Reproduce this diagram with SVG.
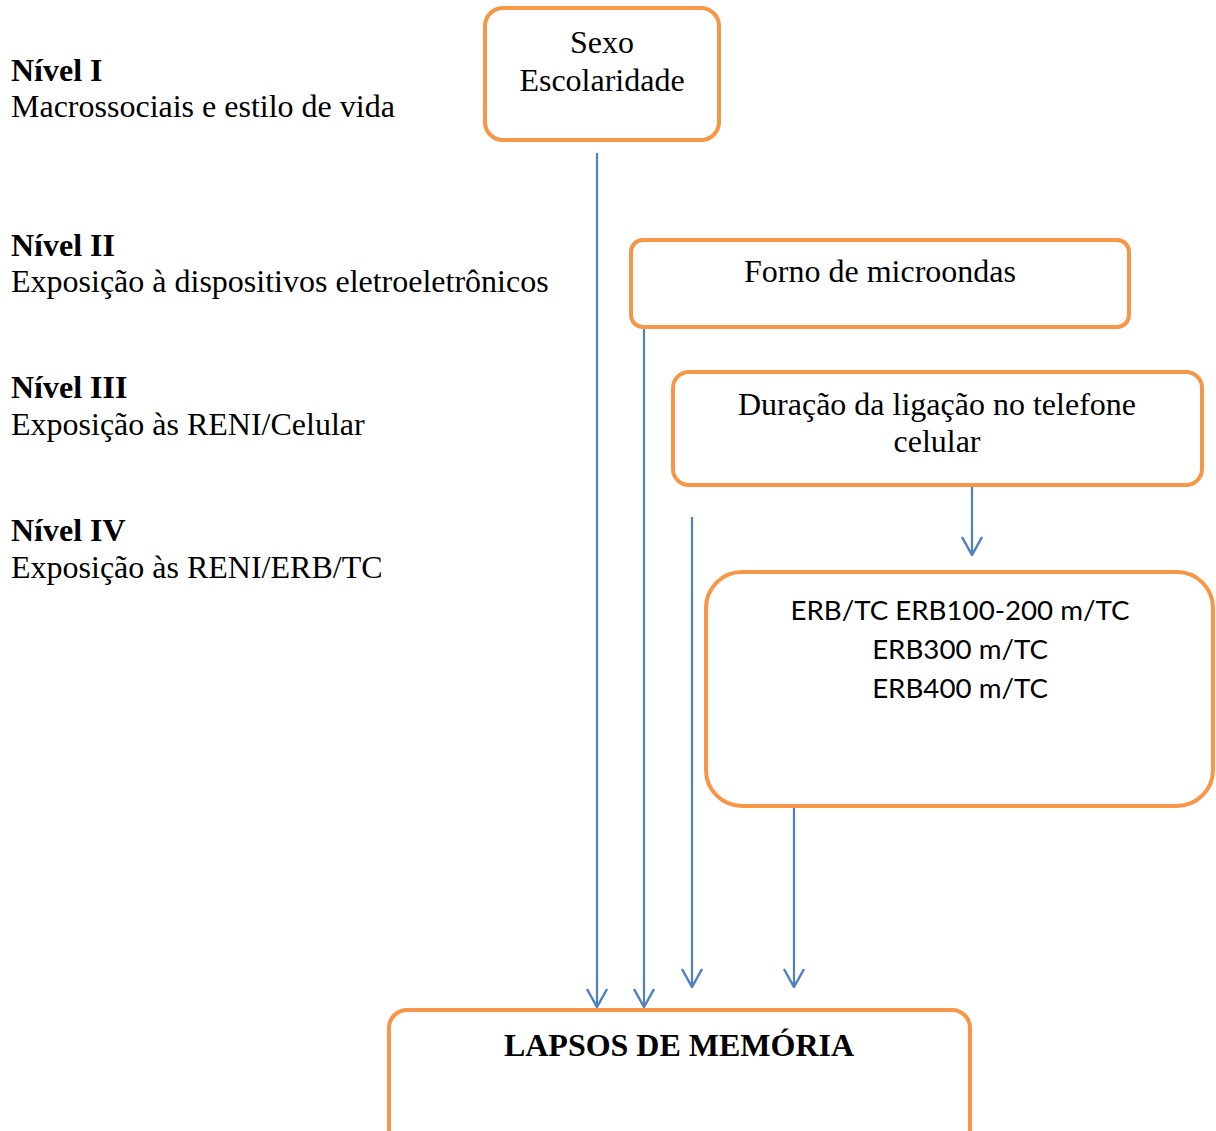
<svg xmlns="http://www.w3.org/2000/svg" width="1216" height="1131" viewBox="0 0 1216 1131">
  <style>
    .box { fill: #ffffff; stroke: #F79646; stroke-width: 4; }
    .serif { font-family: "Liberation Serif", "Times New Roman", serif; font-size: 32px; fill: #000000; }
    .sans { font-family: Lato, "Liberation Sans", sans-serif; font-size: 27.7px; fill: #000000; }
    .bold { font-weight: bold; }
    .mid { text-anchor: middle; }
    .conn { stroke: #4F81BD; stroke-width: 2.2; fill: none; marker-end: url(#arrow); }
  </style>
  <defs>
    <!-- open V arrowhead, tip at the line end -->
    <marker id="arrow" viewBox="0 0 20 22" refX="19" refY="11" markerWidth="20" markerHeight="22" markerUnits="userSpaceOnUse" orient="auto">
      <path d="M1,1 L19,11 L1,21" fill="none" stroke="#4F81BD" stroke-width="2.4" stroke-linejoin="miter"/>
    </marker>
  </defs>
  <rect width="1216" height="1131" fill="#ffffff"/>

  <!-- level labels -->
  <g id="levels">
    <text class="serif bold" x="11" y="81">Nível I</text>
    <text class="serif" x="11" y="117">Macrossociais e estilo de vida</text>
    <text class="serif bold" x="11" y="256">Nível II</text>
    <text class="serif" x="11" y="292">Exposição à dispositivos eletroeletrônicos</text>
    <text class="serif bold" x="11" y="398">Nível III</text>
    <text class="serif" x="11" y="435">Exposição às RENI/Celular</text>
    <text class="serif bold" x="11" y="541">Nível IV</text>
    <text class="serif" x="11" y="578">Exposição às RENI/ERB/TC</text>
  </g>

  <!-- connectors -->
  <g id="connectors">
    <line class="conn" x1="597" y1="153" x2="597" y2="1007"/>
    <line class="conn" x1="644" y1="326" x2="644" y2="1007"/>
    <line class="conn" x1="692" y1="517" x2="692" y2="987"/>
    <line class="conn" x1="972" y1="486" x2="972" y2="555"/>
    <line class="conn" x1="794" y1="808" x2="794" y2="987"/>
  </g>

  <g id="node-sexo">
    <rect class="box" x="485" y="8" width="234" height="132" rx="18"/>
    <text class="serif mid" x="602" y="53">Sexo</text>
    <text class="serif mid" x="602" y="91">Escolaridade</text>
  </g>

  <g id="node-forno">
    <rect class="box" x="631" y="240" width="498" height="87" rx="12"/>
    <text class="serif mid" x="880" y="282">Forno de microondas</text>
  </g>

  <g id="node-duracao">
    <rect class="box" x="673" y="372" width="529" height="113" rx="16"/>
    <text class="serif mid" x="937" y="415">Duração da ligação no telefone</text>
    <text class="serif mid" x="937" y="452">celular</text>
  </g>

  <g id="node-erb">
    <rect class="box" x="706" y="572" width="507" height="234" rx="36"/>
    <text class="sans mid" x="960" y="620">ERB/TC ERB100-200 m/TC</text>
    <text class="sans mid" x="960" y="659">ERB300 m/TC</text>
    <text class="sans mid" x="960" y="698">ERB400 m/TC</text>
  </g>

  <g id="node-lapsos">
    <rect class="box" x="389" y="1010" width="581" height="160" rx="18"/>
    <text class="serif bold mid" x="679" y="1056">LAPSOS DE MEMÓRIA</text>
  </g>
</svg>
